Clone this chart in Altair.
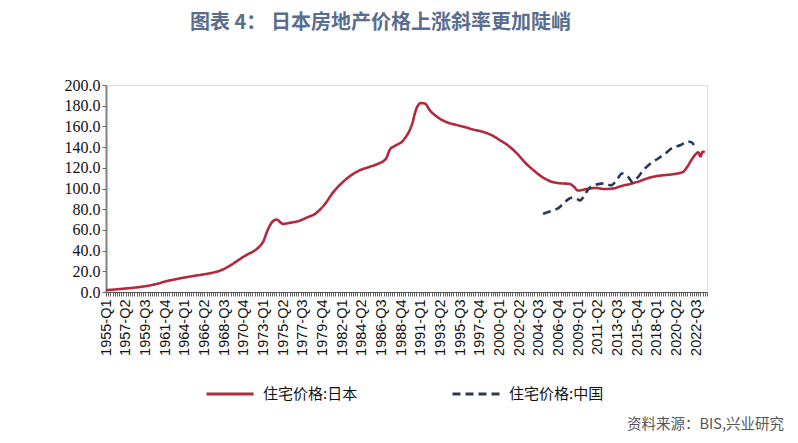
import altair as alt
import pandas as pd

# ---- data ----
jp_quarters = [
    "1955-Q1", "1956-Q1", "1957-Q1", "1958-Q1", "1959-Q1", "1960-Q1", "1961-Q1", "1962-Q1",
    "1963-Q1", "1964-Q1", "1965-Q1", "1966-Q1", "1967-Q1", "1968-Q1", "1969-Q1", "1970-Q1",
    "1971-Q1", "1972-Q1", "1972-Q3", "1973-Q1", "1973-Q3", "1974-Q1", "1974-Q3", "1975-Q1",
    "1975-Q2", "1976-Q1", "1977-Q1", "1978-Q1", "1979-Q1", "1980-Q1", "1981-Q1", "1982-Q1",
    "1983-Q1", "1984-Q1", "1985-Q1", "1986-Q1", "1987-Q1", "1987-Q3", "1988-Q1", "1989-Q1",
    "1990-Q1", "1990-Q3", "1991-Q1", "1991-Q3", "1992-Q1", "1993-Q1", "1994-Q1", "1995-Q1",
    "1996-Q1", "1997-Q1", "1998-Q1", "1999-Q1", "2000-Q1", "2001-Q1", "2002-Q1", "2003-Q1",
    "2004-Q1", "2005-Q1", "2006-Q1", "2007-Q1", "2008-Q1", "2008-Q3", "2009-Q1", "2010-Q1",
    "2011-Q1", "2012-Q1", "2013-Q1", "2014-Q1", "2015-Q1", "2016-Q1", "2017-Q1", "2018-Q1",
    "2019-Q1", "2020-Q1", "2021-Q1", "2021-Q3", "2022-Q1", "2022-Q3", "2022-Q4", "2023-Q1",
    "2023-Q2", "2023-Q3",
]
jp_values = [
    1.8, 2.4, 3.2, 4.0, 5.0, 6.3, 8.3, 10.6,
    12.4, 14.0, 15.5, 16.8, 18.3, 20.5, 24.5, 30.0,
    35.5, 40.0, 43.5, 49.0, 60.0, 67.5, 70.0, 67.0,
    65.8, 66.8, 68.5, 72.0, 76.0, 84.5, 96.5, 105.5,
    112.5, 117.5, 120.5, 123.5, 128.5, 138.0, 141.0, 146.5,
    162.0, 177.0, 182.5, 182.0, 176.0, 168.5, 164.0, 161.5,
    159.5, 157.0, 155.0, 152.0, 147.0, 141.5, 134.0, 124.5,
    117.0, 110.5, 106.5, 105.0, 104.5, 102.0, 98.0, 99.5,
    100.5, 99.5, 100.0, 102.5, 104.5, 107.0, 110.0, 112.0,
    113.0, 114.0, 116.0, 121.0, 128.0, 133.5, 135.0, 131.0,
    135.5, 135.0,
]

cn_quarters = [
    "2005-Q1", "2006-Q1", "2006-Q4", "2007-Q3", "2008-Q2", "2008-Q4", "2009-Q2", "2009-Q4",
    "2010-Q2", "2011-Q1", "2012-Q1", "2012-Q4", "2013-Q3", "2014-Q1", "2014-Q4", "2015-Q2",
    "2015-Q4", "2016-Q3", "2017-Q2", "2018-Q2", "2019-Q1", "2019-Q4", "2020-Q4", "2021-Q3",
    "2022-Q1", "2022-Q2",
]
cn_values = [
    75.5, 78.5, 81.0, 87.0, 91.0, 90.5, 88.5, 94.0,
    100.0, 103.5, 105.0, 103.0, 109.0, 114.5, 111.0, 106.0,
    110.0, 118.0, 124.0, 129.5, 134.0, 139.0, 142.0, 145.5,
    144.5, 142.0,
]

series_names = ["住宅价格:日本", "住宅价格:中国"]
series_colors = ["#b3283d", "#2a3a55"]

title_text = "图表 4：\u00a0日本房地产价格上涨斜率更加陡峭"
source_text = "资料来源：BIS,兴业研究"

# full quarterly category domain for the axis
all_quarters = [f"{y}-Q{q}" for y in range(1955, 2024) for q in range(1, 5)]

df = pd.concat([
    pd.DataFrame({"quarter": jp_quarters, "value": jp_values, "series": series_names[0]}),
    pd.DataFrame({"quarter": cn_quarters, "value": cn_values, "series": series_names[1]}),
])

label_expr = (
    "((toNumber(substring(datum.value,0,4))-1955)*4 + toNumber(substring(datum.value,6,7)) - 1) % 9 == 0"
    " ? datum.value : ''"
)

legend_cfg = dict(
    title=None,
    orient="none",
    direction="horizontal",
    legendX=99,
    legendY=284,
    symbolType="stroke",
    symbolSize=2209,
    symbolStrokeWidth=3,
    labelFont="Noto Sans CJK SC",
    labelFontSize=15,
    labelColor="#111111",
    labelOffset=8,
    columnPadding=88,
)

lines = alt.Chart(df).mark_line(interpolate="monotone", strokeWidth=2.6).encode(
    x=alt.X(
        "quarter:O",
        scale=alt.Scale(domain=all_quarters, type="point", padding=0),
        axis=alt.Axis(
            title=None,
            labelAngle=270,
            labelExpr=label_expr,
            labelOverlap=False,
            labelFont="Liberation Sans",
            labelFontSize=14.5,
            labelColor="#111111",
            labelPadding=3,
            ticks=True,
            tickSize=4,
            tickColor="#333333",
            tickWidth=0.8,
            domainColor="#555555",
            domainWidth=1.2,
            grid=False,
        ),
    ),
    y=alt.Y(
        "value:Q",
        scale=alt.Scale(domain=[0, 200], nice=False),
        axis=alt.Axis(
            title=None,
            values=list(range(0, 201, 20)),
            format=".1f",
            labelFont="Liberation Serif",
            labelFontSize=16,
            labelColor="#111111",
            labelPadding=2,
            tickSize=4,
            tickColor="#666666",
            domainColor="#808080",
            domainWidth=2,
            grid=False,
        ),
    ),
    color=alt.Color(
        "series:N",
        scale=alt.Scale(domain=series_names, range=series_colors),
        legend=alt.Legend(**legend_cfg),
    ),
    strokeDash=alt.StrokeDash(
        "series:N",
        scale=alt.Scale(domain=series_names, range=[[1, 0], [8, 5]]),
        legend=alt.Legend(**legend_cfg),
    ),
)

source = alt.Chart(pd.DataFrame({"t": [source_text]})).mark_text(
    align="left", baseline="middle", font="Noto Sans CJK SC", fontSize=14.5, color="#555555"
).encode(x=alt.value(521), y=alt.value(340), text="t:N")

chart = alt.layer(lines, source).properties(
    width=601,
    height=207,
    title=alt.TitleParams(
        text=title_text,
        anchor="start",
        frame="group",
        dx=84,
        offset=44,
        font="Noto Sans CJK SC",
        fontSize=20,
        fontWeight="bold",
        color="#5a6d8c",
    ),
    autosize=alt.AutoSizeParams(type="none"),
    padding={"left": 98, "top": 77, "right": 83, "bottom": 143},
).configure_view(stroke=None).configure(background="white")

chart.save("out.html", embed_options={"renderer": "svg", "actions": False})
